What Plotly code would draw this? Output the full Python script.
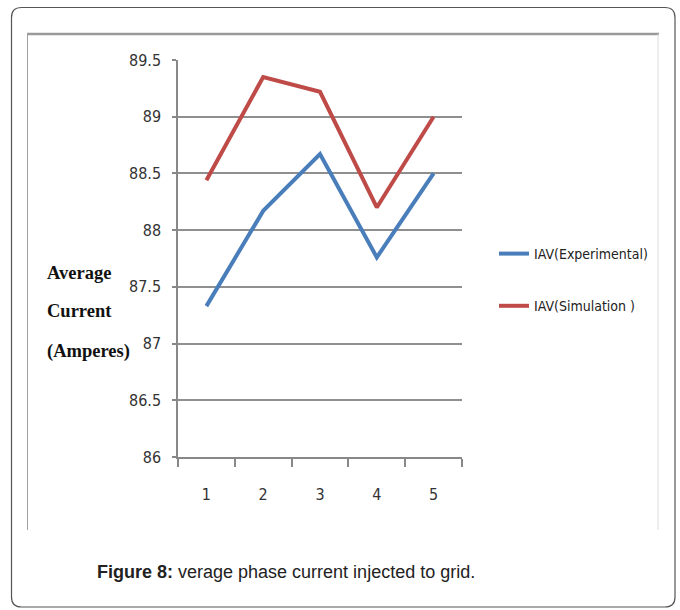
import plotly.graph_objects as go

categories = ["1", "2", "3", "4", "5"]
iav_experimental = [87.33, 88.17, 88.67, 87.76, 88.50]
iav_simulation = [88.44, 89.35, 89.22, 88.20, 89.00]
y_ticks = [86, 86.5, 87, 87.5, 88, 88.5, 89, 89.5]
y_tick_labels = ["86", "86.5", "87", "87.5", "88", "88.5", "89", "89.5"]

W, H = 680, 610
L, R, T, B = 178, 462, 60, 457  # plot area in px

def fx(px):
    return (px - L) / (R - L)

def fy(py):
    return (B - py) / (B - T)

narrow = "DejaVu Sans Condensed, Liberation Sans Narrow, Liberation Sans, sans-serif"

fig = go.Figure()
fig.add_trace(go.Scatter(x=categories, y=iav_experimental, mode="lines",
                         name="IAV(Experimental)", legendgroup="a",
                         line=dict(color="#4a7ebb", width=4)))
fig.add_trace(go.Scatter(x=categories, y=iav_simulation, mode="lines",
                         name="IAV(Simulation )", legendgroup="b",
                         line=dict(color="#be4b48", width=4)))

x0, x1, y0, y1, r = 11.5, 675, 7.5, 607, 10
def P(px, py):
    return f"{fx(px):.5f},{fy(py):.5f}"
path = (f"M {P(x0+r, y0)} L {P(x1-r, y0)} Q {P(x1, y0)} {P(x1, y0+r)} "
        f"L {P(x1, y1-r)} Q {P(x1, y1)} {P(x1-r, y1)} L {P(x0+r, y1)} "
        f"Q {P(x0, y1)} {P(x0, y1-r)} L {P(x0, y0+r)} Q {P(x0, y0)} {P(x0+r, y0)} Z")

shapes = [
    dict(type="path", xref="paper", yref="paper", path=path,
         line=dict(color="#555555", width=1.2), layer="below"),
    dict(type="line", xref="paper", yref="paper", x0=fx(27), x1=fx(659), y0=fy(34), y1=fy(34),
         line=dict(color="#9a9a9a", width=2.5)),
    dict(type="line", xref="paper", yref="paper", x0=fx(27.5), x1=fx(27.5), y0=fy(34), y1=fy(530),
         line=dict(color="#a0a0a0", width=1)),
    dict(type="line", xref="paper", yref="paper", x0=fx(658), x1=fx(658), y0=fy(34), y1=fy(530),
         line=dict(color="#dcdcdc", width=1)),
]

annotations = []
for txt, py in [("Average", 273), ("Current", 311), ("(Amperes)", 351)]:
    annotations.append(dict(text=f"<b>{txt}</b>", xref="paper", yref="paper", x=fx(45), y=fy(py),
                            xanchor="left", yanchor="middle", showarrow=False,
                            font=dict(family="Liberation Serif, Times New Roman, serif",
                                      size=18.5, color="#111111")))
annotations.append(dict(text="<b>Figure 8:</b> verage phase current injected to grid.",
                        xref="paper", yref="paper", x=fx(95), y=fy(572),
                        xanchor="left", yanchor="middle", showarrow=False,
                        font=dict(family="Liberation Sans, Arial, sans-serif", size=18,
                                  color="#222222")))

fig.update_layout(
    width=W, height=H,
    margin=dict(l=L, r=W - R, t=T, b=H - B),
    paper_bgcolor="white", plot_bgcolor="white",
    shapes=shapes, annotations=annotations,
    showlegend=True,
    legend=dict(x=fx(494), y=fy(238), xanchor="left", yanchor="top",
                font=dict(family=narrow, size=14, color="#222222"),
                tracegroupgap=31, itemwidth=30, bgcolor="rgba(0,0,0,0)",
                traceorder="grouped"),
    xaxis=dict(type="category", range=[-0.5, 4.5], tickson="boundaries",
               ticks="outside", ticklen=8, tickcolor="#888888", tickwidth=1.5,
               showline=True, linecolor="#888888", linewidth=1.5,
               showgrid=False, zeroline=False,
               tickfont=dict(family=narrow, size=16, color="#333333"),
               ticklabelstandoff=22),
    yaxis=dict(range=[86, 89.5], tickvals=y_ticks, ticktext=y_tick_labels,
               ticks="outside", ticklen=4, tickcolor="#888888", tickwidth=1.5,
               showline=True, linecolor="#888888", linewidth=1.5,
               showgrid=True, gridcolor="#8f8f8f", gridwidth=2, zeroline=False,
               tickfont=dict(family=narrow, size=16, color="#333333"),
               ticklabelstandoff=8),
)

fig.write_html("out.html",
               config={"displayModeBar": False},
               post_script="document.body.style.margin='0';"
                           "document.documentElement.style.overflow='hidden';"
                           "document.body.style.overflow='hidden';")
